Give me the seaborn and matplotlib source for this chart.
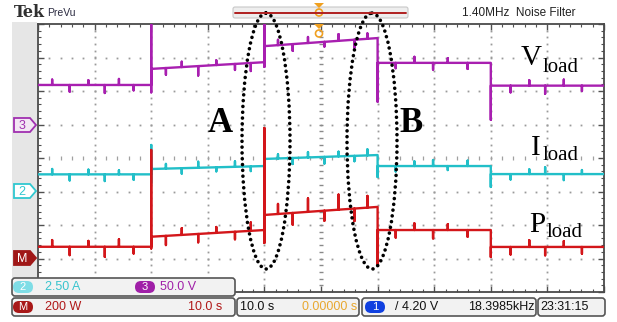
import numpy as np
import pandas as pd
import matplotlib
matplotlib.use("Agg")
import matplotlib.pyplot as plt
import seaborn as sns
from matplotlib.patches import Ellipse, FancyBboxPatch, Polygon, Rectangle, Circle

# ---------------- data ----------------
seg_edges = [0, 20, 40, 60, 80, 100]          # time (s), 10 s/div

v_start = [59, 83, 117, 92, 58]                # Vload (V) at segment start
v_end = [59, 93, 129, 92, 58]                  # Vload (V) at segment end
i_start = [1.28, 1.68, 2.43, 1.90, 1.30]       # Iload (A)
i_end = [1.28, 1.90, 2.72, 1.90, 1.30]
p_start = [70, 130, 260, 170, 69]              # Pload (W)
p_end = [70, 170, 308, 170, 69]

# transient spikes at the 4 switching instants (high, low)
v_spike_hi = [150, 150, 129, 92]
v_spike_lo = [48, 86, 34, 7]
i_spike_hi = [3.47, 2.90, 2.72, 1.90]
i_spike_lo = [0.63, 1.60, 1.08, 0.34]
p_spike_hi = [648, 779, 308, 170]
p_spike_lo = [60, 93, -38, 9]

# small switching glitches along the traces
glitch_t = [2.5, 5.6, 8.9, 11.8, 14.3, 16.9, 22.6, 25.4, 28.3, 31.5, 34.8, 37.6,
            42.4, 45.0, 47.7, 50.6, 53.1, 55.9, 58.2, 63.2, 66.5, 69.8, 72.4, 75.9,
            83.5, 86.8, 89.6, 92.9, 96.1]
v_glitch = [8, -10, 7, -12, 9, -8, -10, 8, -14, 7, -9, -12, 8, -10, 9, -7, 10, -12,
            8, -8, 9, -10, 7, -9, -10, 8, -12, 9, -8]
i_glitch = [0.4, -0.45, 0.35, -0.5, 0.3, -0.4, 0.35, -0.4, 0.45, -0.3, 0.4, -0.35,
            0.3, -0.45, 0.4, -0.5, 0.35, -0.4, 0.45, -0.4, 0.35, 0.45, -0.3, 0.4,
            -0.4, 0.35, 0.5, -0.45, 0.3]
p_glitch = [40, -50, 35, -60, 45, -40, -55, 40, -50, 35, -45, 50, 60, -70, 80, -60,
            90, -75, 70, -45, 40, -50, 35, -40, -45, 40, -50, 35, -40]

channels = ["Vload", "Iload", "Pload"]
scales = [50.0, 2.5, 200.0]      # units / div
offsets = [1.0, -1.0, -3.0]      # channel position (div)
colors = ["#A81FB0", "#22BFC8", "#D3161A"]


def build(starts, ends, hi, lo, amps):
    ts, vs = [], []
    for k in range(len(starts)):
        t0, t1 = seg_edges[k], seg_edges[k + 1]
        if k > 0:
            ts += [t0, t0, t0]
            vs += [hi[k - 1], lo[k - 1], starts[k]]
        else:
            ts.append(t0)
            vs.append(starts[k])
        for g, a in zip(glitch_t, amps):
            if t0 < g < t1:
                base = starts[k] + (ends[k] - starts[k]) * (g - t0) / (t1 - t0)
                ts += [g, g, g]
                vs += [base, base + a, base]
        ts.append(t1)
        vs.append(ends[k])
    return ts, vs


frames = []
for name, args, sc, off in zip(
        channels,
        [(v_start, v_end, v_spike_hi, v_spike_lo, v_glitch),
         (i_start, i_end, i_spike_hi, i_spike_lo, i_glitch),
         (p_start, p_end, p_spike_hi, p_spike_lo, p_glitch)],
        scales, offsets):
    t, v = build(*args)
    d = pd.DataFrame({"t": t, "value": v})
    d["div"] = d["value"] / sc + off
    d["channel"] = name
    frames.append(d)
df = pd.concat(frames, ignore_index=True)

# ---------------- figure ----------------
sns.set_style("white")
plt.rcParams["font.family"] = ["DejaVu Sans"]
W, H = 617, 322
fig = plt.figure(figsize=(W / 100, H / 100), dpi=100, facecolor="white")

ax = fig.add_axes([38 / W, 30 / H, 566 / W, 268 / H])
ax.set_facecolor("white")
sns.lineplot(data=df, x="t", y="div", hue="channel", palette=dict(zip(channels, colors)),
             sort=False, estimator=None, legend=False, lw=1.7, ax=ax, zorder=5)
ax.set_xlim(0, 100)
ax.set_ylim(-4, 4)
ax.set_xlabel("")
ax.set_ylabel("")
ax.set_xticks(np.arange(0, 101, 10))
ax.set_xticks(np.arange(0, 101, 2), minor=True)
ax.set_yticks(np.arange(-4, 4.01, 1))
ax.set_yticks(np.arange(-4, 4.01, 0.2), minor=True)
ax.tick_params(which="both", direction="in", top=True, right=True, bottom=True, left=True,
               labelbottom=False, labelleft=False, color="#505050")
ax.tick_params(which="major", length=4, width=1)
ax.tick_params(which="minor", length=2.2, width=0.8)
for s in ax.spines.values():
    s.set_color("#4a4a4a")
    s.set_linewidth(1.3)

# dotted graticule
gc = "#9a9a9a"
for xv in range(10, 100, 10):
    if xv == 50:
        continue
    yy = np.arange(-3.8, 3.81, 0.2)
    ax.plot(np.full_like(yy, xv), yy, ls="none", marker="s", ms=1.3, color=gc, mec="none", zorder=1)
for yv in [-3, -2, -1, 1, 2, 3]:
    xx = np.arange(2, 99, 2)
    ax.plot(xx, np.full_like(xx, yv, dtype=float), ls="none", marker="s", ms=1.3, color=gc,
            mec="none", zorder=1)
yy = np.arange(-3.8, 3.81, 0.2)
ax.plot(np.full_like(yy, 50), yy, ls="none", marker="_", ms=3.5, mew=1.0, color="#8a8a8a", zorder=1)
xx = np.arange(2, 99, 2)
ax.plot(xx, np.zeros_like(xx, dtype=float), ls="none", marker="|", ms=3, mew=0.9,
        color="#a0a0a0", zorder=1)

# ---------------- overlay (pixel coordinates) ----------------
ov = fig.add_axes([0, 0, 1, 1], zorder=10)
ov.set_xlim(0, W)
ov.set_ylim(H, 0)
ov.axis("off")
ov.patch.set_alpha(0)

narrow = ["Liberation Sans Narrow", "Liberation Sans", "DejaVu Sans"]

# left gray band
ov.add_patch(Rectangle((12, 22), 25, 256, facecolor="#e6e6e6", edgecolor="none", zorder=0))

# top bar
ov.text(14, 12, "Tek", fontsize=11.5, fontweight="bold", color="#303030", va="center", ha="left",
        family=["DejaVu Serif"])
ov.text(47, 12.5, "PreVu", fontsize=7.5, color="#2a2a40", va="center", ha="left", family=narrow)
ov.add_patch(FancyBboxPatch((233, 7), 175, 11, boxstyle="round,pad=0,rounding_size=2",
                            facecolor="#eeeeee", edgecolor="#c8c8c8", lw=0.8))
ov.plot([235, 406], [12.5, 12.5], color="#b02020", lw=1.4)
ov.text(575, 13, "1.40MHz  Noise Filter", fontsize=8.5, color="#222222", va="center", ha="right",
        family=narrow)
orange = "#F0A020"
for y0 in (3, 24):
    ov.add_patch(Polygon([(314, y0), (324, y0), (319, y0 + 5)], closed=True, facecolor=orange,
                         edgecolor="none"))
    ov.add_patch(Circle((319, y0 + 9.5), 3.5, facecolor="none", edgecolor=orange, lw=1.2))

# channel markers on the left
def flag(yc, label, edge, face, tc):
    ov.add_patch(Polygon([(14, yc - 7), (30, yc - 7), (36, yc), (30, yc + 7), (14, yc + 7)],
                         closed=True, facecolor=face, edgecolor=edge, lw=1.3))
    ov.text(22, yc + 0.5, label, fontsize=9, color=tc, ha="center", va="center", family=narrow)

flag(125, "3", "#A030B0", "#f3e6f4", "#A030B0")
flag(191, "2", "#30C8D0", "#ffffff", "#30C8D0")
flag(258, "M", "#A01818", "#A01818", "#ffffff")

# bottom info boxes
box_kw = dict(boxstyle="round,pad=0,rounding_size=3", facecolor="#f2f2f2", edgecolor="#555555", lw=1.2)
ov.add_patch(FancyBboxPatch((12, 278), 223, 18, **box_kw))
ov.add_patch(FancyBboxPatch((12, 298), 223, 18, **box_kw))
ov.add_patch(FancyBboxPatch((237, 298), 122, 18, **box_kw))
ov.add_patch(FancyBboxPatch((362, 298), 174, 18, **box_kw))
ov.add_patch(FancyBboxPatch((538, 298), 67, 18, **box_kw))


def badge(x, yc, label, face):
    ov.add_patch(FancyBboxPatch((x, yc - 6), 20, 12, boxstyle="round,pad=0,rounding_size=6",
                                facecolor=face, edgecolor="none"))
    ov.text(x + 10, yc + 0.5, label, fontsize=8, color="white", ha="center", va="center",
            family=narrow)

fs = 9
badge(13, 287, "2", "#7fdde6")
ov.text(45, 287.5, "2.50 A", fontsize=fs, color="#38C4CE", va="center", family=narrow)
badge(135, 287, "3", "#A020A8")
ov.text(160, 287.5, "50.0 V", fontsize=fs, color="#A020A8", va="center", family=narrow)
badge(13, 307, "M", "#A81818")
ov.text(45, 307.5, "200 W", fontsize=fs, color="#B01818", va="center", family=narrow)
ov.text(222, 307.5, "10.0 s", fontsize=fs, color="#B01818", va="center", ha="right", family=narrow)
ov.text(240, 307.5, "10.0 s", fontsize=fs, color="#111111", va="center", family=narrow)
ov.text(357, 307.5, "0.00000 s", fontsize=fs, color="#E8A830", va="center", ha="right", family=narrow)
badge(365, 307, "1", "#1040E0")
ov.text(395, 307.5, "/ 4.20 V", fontsize=fs, color="#111111", va="center", family=narrow)
ov.text(535, 307.5, "18.3985kHz", fontsize=fs, color="#111111", va="center", ha="right", family=narrow)
ov.text(540, 307.5, "23:31:15", fontsize=fs, color="#111111", va="center", family=narrow)

# annotations: ellipses and labels
for cx, w in ((266, 48), (372, 50)):
    ov.add_patch(Ellipse((cx, 141), w, 256, facecolor="none", edgecolor="black", lw=2.6,
                         linestyle=(0, (0.01, 1.6)), capstyle="round"))

serif = ["Liberation Serif", "DejaVu Serif"]
ov.text(208, 132, "A", fontsize=25, fontweight="bold", color="black", family=serif, va="baseline")
ov.text(399, 132, "B", fontsize=25, fontweight="bold", color="black", family=serif, va="baseline")

for x0, yb, big in ((521, 65, "V"), (531, 155, "I"), (529, 232, "P")):
    ov.text(x0, yb, big, fontsize=21, color="black", family=serif, va="baseline")
ov.text(543, 72, "load", fontsize=15, color="black", family=serif, va="baseline")
ov.text(543, 160, "load", fontsize=15, color="black", family=serif, va="baseline")
ov.text(547, 237, "load", fontsize=15, color="black", family=serif, va="baseline")

fig.savefig("out.png", dpi=100, facecolor="white")
